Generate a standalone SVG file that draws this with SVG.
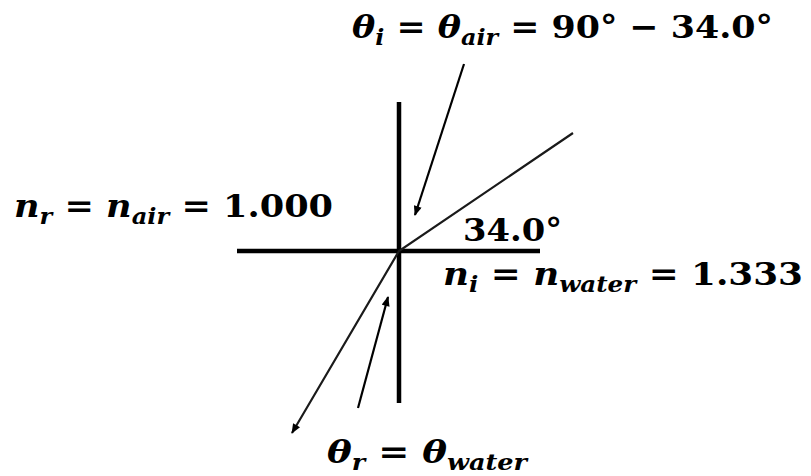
<svg xmlns="http://www.w3.org/2000/svg" width="811" height="476" viewBox="0 0 811 476">
<defs>
<style>
text{font-family:'DejaVu Serif',serif;font-weight:700;font-style:italic;font-size:32px;fill:#000}
.n{font-style:normal}
.s{font-size:22px}
.axis{stroke:#000;stroke-width:4.5;fill:none}
.ray{stroke:#1a1a1a;stroke-width:2.2;fill:none}
.ptr{stroke:#000;stroke-width:2.2;fill:none}
</style>
<marker id="ah" viewBox="0 0 10 8" refX="9" refY="4" markerWidth="11" markerHeight="8" markerUnits="userSpaceOnUse" orient="auto">
<path d="M0,0 L10,4 L0,8 Z" fill="#000"/>
</marker>
</defs>
<rect width="811" height="476" fill="#fff"/>
<g id="axes">
<line class="axis" x1="399" y1="102" x2="399" y2="403"/>
<line class="axis" x1="237" y1="251" x2="540" y2="251"/>
</g>
<g id="connectors">
<polyline class="ray" points="573,133 399,251 292,433" marker-end="url(#ah)"/>
<line class="ptr" x1="464" y1="64" x2="415" y2="215" marker-end="url(#ah)"/>
<line class="ptr" x1="358" y1="408" x2="388" y2="297" marker-end="url(#ah)"/>
</g>
<g id="label-theta-i">
<text x="352" y="38" textLength="421" lengthAdjust="spacingAndGlyphs">θ<tspan class="s" dy="7">i</tspan><tspan dy="-7"> = θ</tspan><tspan class="s" dy="7">air</tspan><tspan class="n" dy="-7"> = 90° − 34.0°</tspan></text>
</g>
<g id="label-n-r">
<text x="14" y="217" textLength="319" lengthAdjust="spacingAndGlyphs">n<tspan class="s" dy="7">r</tspan><tspan dy="-7"> = n</tspan><tspan class="s" dy="7">air</tspan><tspan class="n" dy="-7"> = 1.000</tspan></text>
</g>
<g id="label-angle">
<text class="n" x="463" y="241" textLength="99" lengthAdjust="spacingAndGlyphs">34.0°</text>
</g>
<g id="label-n-i">
<text x="443" y="285" textLength="360" lengthAdjust="spacingAndGlyphs">n<tspan class="s" dy="7">i</tspan><tspan dy="-7"> = n</tspan><tspan class="s" dy="7">water</tspan><tspan class="n" dy="-7"> = 1.333</tspan></text>
</g>
<g id="label-theta-r">
<text x="327" y="463" textLength="200" lengthAdjust="spacingAndGlyphs">θ<tspan class="s" dy="7">r</tspan><tspan dy="-7"> = θ</tspan><tspan class="s" dy="7">water</tspan></text>
</g>
</svg>
